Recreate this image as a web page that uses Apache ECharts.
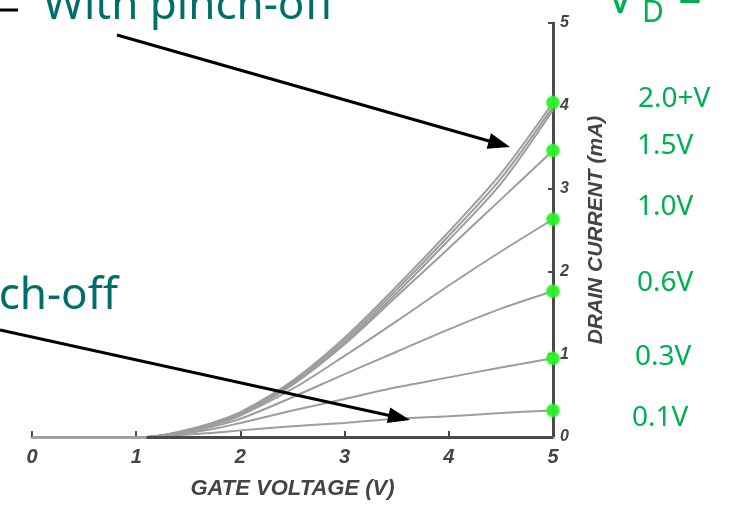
<!DOCTYPE html>
<html>
<head>
<meta charset="utf-8">
<script src="https://cdn.jsdelivr.net/npm/echarts@6/dist/echarts.min.js"></script>
<style>
  html, body { margin: 0; padding: 0; background: #ffffff; }
  #chart { width: 731px; height: 505px; }
</style>
</head>
<body>
<div id="chart"></div>
<script>
// Gate voltage samples (V)
const gateVoltage = [0, 1.1, 1.25, 1.5, 1.75, 2.0, 2.5, 3.0, 3.5, 4.0, 4.5, 5.0];

// Drain current (mA) for each drain voltage V_D
const idVd20a = [0, 0, 0.02, 0.09, 0.18, 0.30, 0.68, 1.20, 1.82, 2.48, 3.18, 4.04];
const idVd20b = [0, 0, 0.02, 0.08, 0.17, 0.29, 0.66, 1.17, 1.78, 2.43, 3.12, 3.99];
const idVd20c = [0, 0, 0.02, 0.08, 0.17, 0.28, 0.64, 1.14, 1.74, 2.38, 3.06, 3.95];
const idVd15  = [0, 0, 0.02, 0.08, 0.16, 0.27, 0.63, 1.12, 1.70, 2.28, 2.87, 3.46];
const idVd10  = [0, 0, 0.02, 0.07, 0.15, 0.26, 0.58, 0.98, 1.40, 1.83, 2.24, 2.63];
const idVd06  = [0, 0, 0.02, 0.06, 0.13, 0.22, 0.48, 0.76, 1.03, 1.30, 1.55, 1.76];
const idVd03  = [0, 0, 0.01, 0.05, 0.10, 0.17, 0.32, 0.46, 0.60, 0.72, 0.84, 0.95];
const idVd01  = [0, 0, 0.01, 0.03, 0.05, 0.08, 0.13, 0.17, 0.22, 0.25, 0.29, 0.32];

// Curves ending on a labelled marker
const markedCurves = [idVd20a, idVd15, idVd10, idVd06, idVd03, idVd01];
const markerLabels = ['2.0+V', '1.5V', '1.0V', '0.6V', '0.3V', '0.1V'];

// Axis ticks
const xTicks = [0, 1, 2, 3, 4, 5];
const yTicks = [0, 1, 2, 3, 4, 5];

const curveColor = '#9d9d9d';
const axisDark = '#4a4a4a';
const green = '#00b050';
const teal = '#006e6a';
const chartFont = '"Liberation Sans", Arial, sans-serif';
const noteFont = '"Noto Sans", "DejaVu Sans", sans-serif';

function toPoints(values) {
  return gateVoltage.map((v, i) => [v, values[i]]);
}

const curveSeries = [idVd20a, idVd20b, idVd20c, idVd15, idVd10, idVd06, idVd03, idVd01].map(vals => ({
  type: 'line',
  data: toPoints(vals),
  smooth: 0.3,
  showSymbol: false,
  silent: true,
  z: 2,
  lineStyle: { color: curveColor, width: 2 }
}));

// Dark base of the gate-voltage axis where the device conducts
curveSeries[0].markLine = {
  silent: true,
  symbol: 'none',
  label: { show: false },
  lineStyle: { color: axisDark, width: 3, type: 'solid' },
  data: [[{ coord: [gateVoltage[1], 0] }, { coord: [xTicks[xTicks.length - 1], 0] }]]
};

const endMarkers = {
  type: 'scatter',
  data: markedCurves.map(vals => [gateVoltage[gateVoltage.length - 1], vals[vals.length - 1]]),
  symbol: 'circle',
  symbolSize: 13,
  z: 5,
  itemStyle: { color: '#2bf02b', shadowBlur: 3, shadowColor: '#2bf02b' },
  silent: true
};

// Annotation arrow drawn as a line with a filled head
function arrow(x1, y1, x2, y2) {
  const dx = x2 - x1, dy = y2 - y1;
  const len = Math.hypot(dx, dy);
  const ux = dx / len, uy = dy / len;
  const headLen = 22, headHalf = 8;
  const bx = x2 - ux * headLen, by = y2 - uy * headLen;
  return [
    { type: 'line', shape: { x1: x1, y1: y1, x2: bx + ux * 2, y2: by + uy * 2 },
      style: { stroke: '#000', lineWidth: 3 }, z: 10 },
    { type: 'polygon', shape: { points: [[x2, y2], [bx - uy * headHalf, by + ux * headHalf], [bx + uy * headHalf, by - ux * headHalf]] },
      style: { fill: '#000' }, z: 10 }
  ];
}

const labelCentres = [99, 146, 207, 283, 357, 418];
const labelLefts = [638, 637, 637, 637, 635, 632];

const graphics = [
  { type: 'line', shape: { x1: 0, y1: 10, x2: 18, y2: 10 }, style: { stroke: '#000', lineWidth: 3 } },
  { type: 'text', left: 43, top: -16, style: { text: 'With pinch-off', fill: teal, font: '44px ' + noteFont } },
  { type: 'text', x: 118, y: 296, style: { text: 'ch-off', fill: teal, font: '44px ' + noteFont, textAlign: 'right', textVerticalAlign: 'middle' } },
  { type: 'text', x: 607, y: 0, style: { text: 'V', fill: green, font: '44px ' + noteFont, textVerticalAlign: 'middle' } },
  { type: 'text', x: 642, y: 13, style: { text: 'D', fill: green, font: '30px ' + noteFont, textVerticalAlign: 'middle' } },
  { type: 'text', x: 678, y: 0, style: { text: '=', fill: green, font: '42px ' + noteFont, textVerticalAlign: 'middle' } }
].concat(arrow(117, 35, 510, 147), arrow(0, 330, 410, 420));

markerLabels.forEach((t, i) => {
  graphics.push({
    type: 'text', x: labelLefts[i], y: labelCentres[i],
    style: { text: t, fill: green, font: '28px ' + noteFont, textVerticalAlign: 'middle' }
  });
});

const chart = echarts.init(document.getElementById('chart'), null, { renderer: 'canvas' });
chart.setOption({
  animation: false,
  backgroundColor: '#ffffff',
  grid: { left: 32, right: 178, top: 23, bottom: 62, containLabel: false },
  xAxis: {
    type: 'value',
    min: xTicks[0], max: xTicks[xTicks.length - 1], interval: 1,
    name: 'GATE VOLTAGE (V)',
    nameLocation: 'middle',
    nameGap: 41,
    nameTextStyle: { color: '#444', fontFamily: chartFont, fontWeight: 'bold', fontStyle: 'italic', fontSize: 22 },
    axisLine: { show: true, onZero: false, lineStyle: { color: '#a8a8a8', width: 3 } },
    axisTick: { show: true, inside: true, length: 6, lineStyle: { color: axisDark, width: 2 } },
    axisLabel: { color: '#444', fontFamily: chartFont, fontWeight: 'bold', fontStyle: 'italic', fontSize: 20, margin: 10 },
    splitLine: { show: false }
  },
  yAxis: {
    type: 'value',
    position: 'right',
    min: yTicks[0], max: yTicks[yTicks.length - 1], interval: 1,
    name: 'DRAIN CURRENT (mA)',
    nameLocation: 'middle',
    nameRotate: 90,
    nameGap: 33,
    nameTextStyle: { color: '#444', fontFamily: chartFont, fontWeight: 'bold', fontStyle: 'italic', fontSize: 21 },
    axisLine: { show: true, onZero: false, lineStyle: { color: axisDark, width: 3 } },
    axisTick: { show: true, inside: true, length: 5, lineStyle: { color: axisDark, width: 2 } },
    axisLabel: { color: '#444', fontFamily: chartFont, fontWeight: 'bold', fontStyle: 'italic', fontSize: 16, margin: 7 },
    splitLine: { show: false }
  },
  series: curveSeries.concat([endMarkers]),
  graphic: graphics
});
</script>
</body>
</html>
